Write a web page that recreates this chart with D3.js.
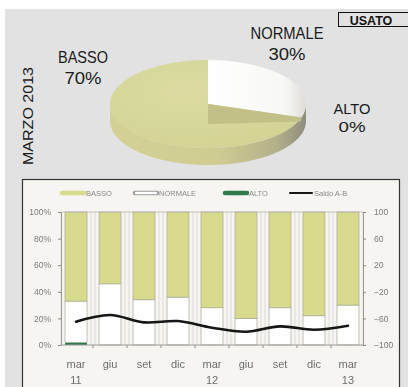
<!DOCTYPE html>
<html>
<head>
<meta charset="utf-8">
<script src="https://cdn.jsdelivr.net/npm/d3@7"></script>
<style>
  html, body { margin: 0; padding: 0; background: #ffffff; }
  svg { display: block; }
  text { font-family: "Liberation Sans", Arial, sans-serif; }
</style>
</head>
<body>
<script>
// Share of used-car stock by level (March 2013)
const pieLabels = ["NORMALE", "ALTO", "BASSO"];
const pieValues = [30, 0, 70];

// Quarterly series
const months = ["mar", "giu", "set", "dic", "mar", "giu", "set", "dic", "mar"];
const years = ["11", "", "", "", "12", "", "", "", "13"];
const basso = [67, 54, 66, 64, 72, 80, 72, 78, 70];
const normale = [31, 46, 34, 36, 28, 20, 28, 22, 30];
const alto = [2, 0, 0, 0, 0, 0, 0, 0, 0];
const saldo = [-65, -55, -66, -64, -74, -80, -72, -77, -71];
const leftTicks = [0, 20, 40, 60, 80, 100];
const rightTicks = [-100, -60, -20, 20, 60, 100];
const legendNames = ["BASSO", "NORMALE", "ALTO", "Saldo A-B"];

const W = 408, H = 387;
const C = { basso: "#d8db8b", normale: "#ffffff", alto: "#2f7a4c", saldo: "#141414" };

const svg = d3.select("body").append("svg").attr("width", W).attr("height", H);
const defs = svg.append("defs");

defs.append("filter").attr("id", "soft")
  .append("feGaussianBlur").attr("stdDeviation", 0.45);

const wallGrad = defs.append("linearGradient").attr("id", "wall")
  .attr("x1", "0%").attr("x2", "100%").attr("y1", "0%").attr("y2", "0%");
wallGrad.append("stop").attr("offset", "0%").attr("stop-color", "#d3d196");
wallGrad.append("stop").attr("offset", "55%").attr("stop-color", "#cfcc92");
wallGrad.append("stop").attr("offset", "85%").attr("stop-color", "#b3b08a");
wallGrad.append("stop").attr("offset", "100%").attr("stop-color", "#8e8c7e");

const topGrad = defs.append("radialGradient").attr("id", "topface")
  .attr("cx", "40%").attr("cy", "35%").attr("r", "70%");
topGrad.append("stop").attr("offset", "0%").attr("stop-color", "#dcdca2");
topGrad.append("stop").attr("offset", "100%").attr("stop-color", "#d2d394");

const whiteGrad = defs.append("linearGradient").attr("id", "whiteface")
  .attr("x1", "0%").attr("x2", "100%").attr("y1", "0%").attr("y2", "0%");
whiteGrad.append("stop").attr("offset", "0%").attr("stop-color", "#ffffff");
whiteGrad.append("stop").attr("offset", "80%").attr("stop-color", "#f7f7f5");
whiteGrad.append("stop").attr("offset", "100%").attr("stop-color", "#dedcd6");

// page background
svg.append("rect").attr("x", 5).attr("y", 9).attr("width", W - 5).attr("height", H - 9)
  .attr("fill", "#e2e2e2");

// ---------- 3D pie ----------
const cx = 208, cy = 104, rx = 98, ry = 44, depth = 17;
const pt = (a, dy = 0) => [cx + rx * Math.sin(a), cy - ry * Math.cos(a) + dy];
const arcs = d3.pie().sort(null).value(d => d)(pieValues);
const fills = { NORMALE: "url(#whiteface)", ALTO: C.alto, BASSO: "url(#topface)" };

function rimPoints(a0, a1, dy) {
  const n = Math.max(2, Math.ceil(Math.abs(a1 - a0) / 0.03));
  return d3.range(n + 1).map(i => pt(a0 + (a1 - a0) * i / n, dy));
}

// outer wall on the front half
const wallTop = rimPoints(Math.PI / 2, 3 * Math.PI / 2, 0);
const wallBot = rimPoints(3 * Math.PI / 2, Math.PI / 2, depth);
svg.append("path")
  .attr("d", d3.line()(wallTop.concat(wallBot)) + "Z")
  .attr("fill", "url(#wall)");

// top faces
arcs.forEach((a, i) => {
  if (a.endAngle - a.startAngle <= 0) return;
  const pts = [[cx, cy]].concat(rimPoints(a.startAngle, a.endAngle, 0));
  svg.append("path")
    .attr("d", d3.line()(pts) + "Z")
    .attr("fill", fills[pieLabels[i]]);
});

// cut face under the raised NORMALE slice
const cut = arcs[0].endAngle;
svg.append("path")
  .attr("d", d3.line()([[cx, cy], pt(cut), pt(cut, 4), [cx, cy + 20]]) + "Z")
  .attr("fill", "#c2c086");

// pie labels
const pieText = [
  { t: ["BASSO", "70%"], x: 83, y: [63, 84], w: [50, 37], fs: 17 },
  { t: ["NORMALE", "30%"], x: 287, y: [39, 60], w: [73, 37], fs: 17 },
  { t: ["ALTO", "0%"], x: 352, y: [114, 132], w: [37, 27], fs: 15.5 }
];
pieText.forEach(p => {
  p.t.forEach((s, k) => {
    svg.append("text").attr("x", p.x).attr("y", p.y[k])
      .attr("text-anchor", "middle").attr("font-size", p.fs)
      .attr("textLength", p.w[k]).attr("lengthAdjust", "spacingAndGlyphs")
      .attr("fill", "#1a1a1a").text(s);
  });
});

svg.append("text")
  .attr("transform", "translate(33,116) rotate(-90)")
  .attr("text-anchor", "middle").attr("font-size", 15)
  .attr("textLength", 98).attr("lengthAdjust", "spacingAndGlyphs")
  .attr("fill", "#1a1a1a").text("MARZO 2013");

// tag
svg.append("rect").attr("x", 338.5).attr("y", 12.5).attr("width", 80).attr("height", 14)
  .attr("fill", "#e2e2e2").attr("stroke", "#111").attr("stroke-width", 1);
svg.append("text").attr("x", 371).attr("y", 24.5).attr("text-anchor", "middle")
  .attr("font-size", 12.5).attr("font-weight", "bold").attr("fill", "#111").text("USATO");

// ---------- stacked bars ----------
svg.append("rect").attr("x", 22.5).attr("y", 179.5).attr("width", 377).attr("height", 220)
  .attr("fill", "#f6f5f1").attr("stroke", "#333").attr("stroke-width", 1.2);

const g = svg.append("g").attr("filter", "url(#soft)");

const x = d3.scaleBand().domain(d3.range(months.length)).range([61, 363])
  .paddingInner(0.353).paddingOuter(0.118);
const y = d3.scaleLinear().domain([0, 100]).range([345, 212]);
const y2 = d3.scaleLinear().domain([-100, 100]).range([345, 212]);

// legend
const legX = [62, 135, 225, 290];
legendNames.forEach((n, i) => {
  const col = [C.basso, "#ffffff", C.alto, C.saldo][i];
  g.append("line").attr("x1", legX[i]).attr("x2", legX[i] + 22).attr("y1", 193).attr("y2", 193)
    .attr("stroke", i === 1 ? "#9a9a9a" : col).attr("stroke-width", i === 3 ? 2 : 4.5)
    .attr("stroke-linecap", "round");
  if (i === 1) {
    g.append("line").attr("x1", legX[i] + 1).attr("x2", legX[i] + 21).attr("y1", 193).attr("y2", 193)
      .attr("stroke", "#fff").attr("stroke-width", 2.5).attr("stroke-linecap", "round");
  }
  g.append("text").attr("x", legX[i] + 24).attr("y", 195.5).attr("font-size", 7.5)
    .attr("fill", "#8a8a8a").text(n);
});

// vertical lines at the band edges
months.forEach((m, i) => {
  [x(i) - 4, x(i) + x.bandwidth() + 4].forEach(px => {
    g.append("line").attr("x1", px).attr("x2", px).attr("y1", y(100)).attr("y2", y(0))
      .attr("stroke", "#d4d4d0").attr("stroke-width", 0.8);
  });
});

const stack = d3.stack().keys(["alto", "normale", "basso"])(
  months.map((m, i) => ({ alto: alto[i], normale: normale[i], basso: basso[i] })));
const barCol = { alto: C.alto, normale: C.normale, basso: C.basso };
stack.forEach(layer => {
  g.selectAll(null).data(layer).join("rect")
    .attr("x", (d, i) => x(i))
    .attr("width", x.bandwidth())
    .attr("y", d => y(d[1]))
    .attr("height", d => Math.max(0, y(d[0]) - y(d[1])))
    .attr("fill", barCol[layer.key])
    .attr("stroke", layer.key === "alto" ? "none" : "#a9a99a")
    .attr("stroke-width", 0.7);
});

// axes
const axL = d3.axisLeft(y).tickValues(leftTicks).tickSize(3).tickFormat(d => d + "%");
const axR = d3.axisRight(y2).tickValues(rightTicks).tickSize(3);
const gl = g.append("g").attr("transform", "translate(61,0)").call(axL);
const gr = g.append("g").attr("transform", "translate(363,0)").call(axR);
[gl, gr].forEach(a => {
  a.select(".domain").attr("stroke", "#9a9a96");
  a.selectAll(".tick line").attr("stroke", "#8a8a86");
  a.selectAll(".tick text").attr("font-size", 8.5).attr("fill", "#7a7a7a")
    .attr("font-family", "Liberation Sans, Arial, sans-serif");
});
gl.selectAll(".tick text").attr("x", -10);
gr.selectAll(".tick text").attr("x", 11);
g.append("line").attr("x1", 61).attr("x2", 363).attr("y1", y(0)).attr("y2", y(0))
  .attr("stroke", "#9a9a96").attr("stroke-width", 1);
g.append("line").attr("x1", 61).attr("x2", 363).attr("y1", y(100)).attr("y2", y(100))
  .attr("stroke", "#b6b6b0").attr("stroke-width", 0.8);

// small ticks on the category axis
months.forEach((m, i) => {
  const px = x(i) + x.bandwidth() + x.step() * 0.353 / 2;
  if (i < months.length - 1) {
    g.append("line").attr("x1", px).attr("x2", px).attr("y1", y(0)).attr("y2", y(0) + 3)
      .attr("stroke", "#8a8a86");
  }
});

// category labels
months.forEach((m, i) => {
  const cxb = x(i) + x.bandwidth() / 2;
  g.append("text").attr("x", cxb).attr("y", 368).attr("text-anchor", "middle")
    .attr("font-size", 11).attr("fill", "#6e6e6e").text(m);
  if (years[i]) {
    g.append("text").attr("x", cxb).attr("y", 384).attr("text-anchor", "middle")
      .attr("font-size", 11).attr("fill", "#6e6e6e").text(years[i]);
  }
});

// balance line
g.append("path")
  .datum(saldo)
  .attr("d", d3.line().x((d, i) => x(i) + x.bandwidth() / 2).y(d => y2(d)).curve(d3.curveCatmullRom))
  .attr("fill", "none").attr("stroke", C.saldo).attr("stroke-width", 2.6)
  .attr("stroke-linecap", "round");
</script>
</body>
</html>
